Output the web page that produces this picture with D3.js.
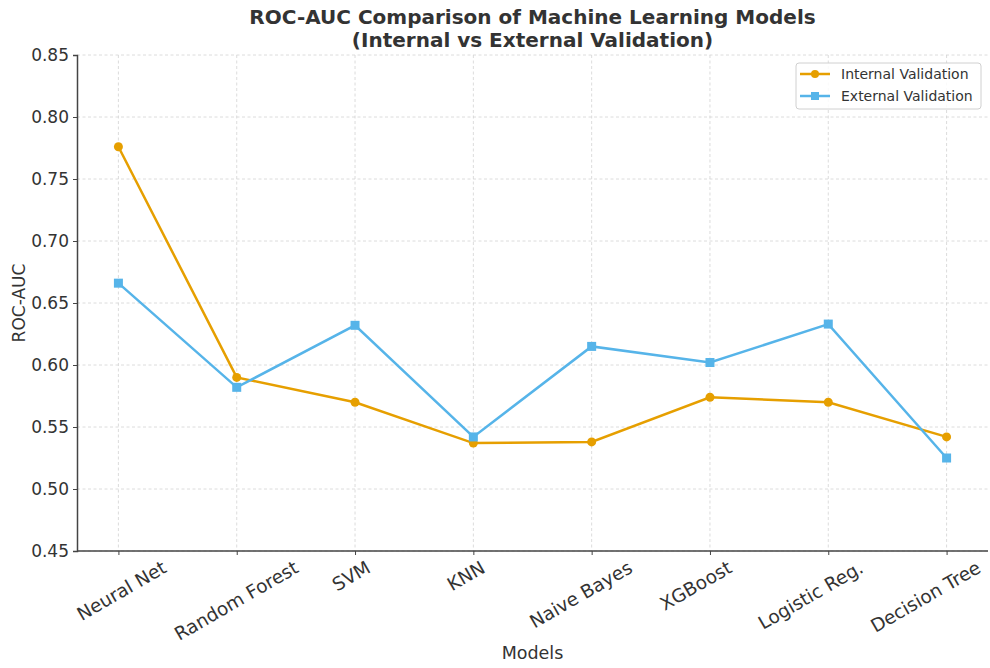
<!DOCTYPE html>
<html>
<head>
<meta charset="utf-8">
<script src="https://cdn.jsdelivr.net/npm/d3@7"></script>
<style>
  body { margin: 0; background: #fff; }
  text { font-family: "DejaVu Sans", sans-serif; fill: #333; }
</style>
</head>
<body>
<div id="chart"></div>
<script>
// données
var models = ["Neural Net", "Random Forest", "SVM", "KNN", "Naive Bayes", "XGBoost", "Logistic Reg.", "Decision Tree"];
var internal = [0.776, 0.590, 0.570, 0.537, 0.538, 0.574, 0.570, 0.542];
var external = [0.666, 0.582, 0.632, 0.542, 0.615, 0.602, 0.633, 0.525];
var yTicks = [0.45, 0.50, 0.55, 0.60, 0.65, 0.70, 0.75, 0.80, 0.85];

var W = 990, H = 668;
var m = { left: 77, right: 2, top: 55, bottom: 117 };

var svg = d3.select("#chart").append("svg")
    .attr("width", W).attr("height", H);

// échelle x : marge de 0.35 de chaque côté comme matplotlib
var x = d3.scaleLinear()
    .domain([-0.35, models.length - 1 + 0.35])
    .range([m.left, W - m.right]);
var y = d3.scaleLinear()
    .domain([0.45, 0.85])
    .range([H - m.bottom, m.top]);
// les étiquettes de l'axe x sont un peu resserrées par rapport aux graduations
var xLabel = d3.scaleLinear()
    .domain([0, models.length - 1])
    .range([121, 925]);

// grille pointillée
var grid = svg.append("g").attr("stroke", "#d3d3d3").attr("stroke-width", 0.8).attr("stroke-dasharray", "3,2.5");
grid.selectAll(".gy").data(yTicks).enter().append("line")
    .attr("x1", m.left).attr("x2", W - m.right)
    .attr("y1", function(d) { return y(d); }).attr("y2", function(d) { return y(d); });
grid.selectAll(".gx").data(models).enter().append("line")
    .attr("x1", function(d, i) { return x(i); }).attr("x2", function(d, i) { return x(i); })
    .attr("y1", m.top).attr("y2", H - m.bottom);

// axe y
var yAxis = svg.append("g")
    .attr("transform", "translate(" + m.left + ",0)")
    .call(d3.axisLeft(y).tickValues(yTicks).tickFormat(d3.format(".2f")).tickSize(4).tickPadding(4));
yAxis.select(".domain").attr("stroke", "#444").attr("stroke-width", 1.5);
yAxis.selectAll(".tick line").attr("stroke", "#444");
yAxis.selectAll("text").style("font-size", "17px").attr("fill", "#333");

// axe x
var xAxis = svg.append("g")
    .attr("transform", "translate(0," + (H - m.bottom) + ")")
    .call(d3.axisBottom(x).tickValues(d3.range(models.length)).tickFormat(function(i) { return models[i]; }).tickSize(4).tickSizeOuter(0));
xAxis.select(".domain").attr("stroke", "#444").attr("stroke-width", 1.5)
    .attr("d", "M" + m.left + ",0H" + (W - m.right));
xAxis.selectAll(".tick line").attr("stroke", "#444");
xAxis.selectAll("text")
    .style("font-size", "18.5px").attr("fill", "#333")
    .attr("text-anchor", "middle").attr("dominant-baseline", "central")
    .attr("dy", null).attr("y", null)
    .attr("transform", function(i) {
        var w = this.getComputedTextLength();
        var bh = w * 0.5 + 13.5 * 0.866;
        return "translate(" + (xLabel(i) - x(i)) + "," + (9 + bh / 2) + ") rotate(-30)";
    });

// courbes
var series = [
    { name: "Internal Validation", values: internal, color: "#E69F00", marker: "circle" },
    { name: "External Validation", values: external, color: "#56B4E9", marker: "square" }
];
var line = d3.line()
    .x(function(d, i) { return x(i); })
    .y(function(d) { return y(d); });

series.forEach(function(s) {
    svg.append("path")
        .datum(s.values)
        .attr("fill", "none").attr("stroke", s.color).attr("stroke-width", 2.5)
        .attr("d", line);
    var g = svg.append("g").attr("fill", s.color);
    if (s.marker == "circle") {
        g.selectAll("circle").data(s.values).enter().append("circle")
            .attr("cx", function(d, i) { return x(i); })
            .attr("cy", function(d) { return y(d); })
            .attr("r", 4.5);
    } else {
        g.selectAll("rect").data(s.values).enter().append("rect")
            .attr("x", function(d, i) { return x(i) - 4.5; })
            .attr("y", function(d) { return y(d) - 4.5; })
            .attr("width", 9).attr("height", 9);
    }
});

// titre
var cx = (m.left + W - m.right) / 2;
var title = svg.append("text")
    .attr("x", cx).attr("text-anchor", "middle")
    .style("font-size", "20px").style("font-weight", "bold");
title.append("tspan").attr("x", cx).attr("y", 24).text("ROC-AUC Comparison of Machine Learning Models");
title.append("tspan").attr("x", cx).attr("y", 46.5).text("(Internal vs External Validation)");

// titres des axes
svg.append("text")
    .attr("x", cx).attr("y", 659)
    .attr("text-anchor", "middle").style("font-size", "17.5px")
    .text("Models");
svg.append("text")
    .attr("transform", "translate(25," + ((m.top + H - m.bottom) / 2) + ") rotate(-90)")
    .attr("text-anchor", "middle").style("font-size", "17px")
    .text("ROC-AUC");

// légende
var leg = svg.append("g").attr("transform", "translate(796,63)");
leg.append("rect")
    .attr("width", 185).attr("height", 46).attr("rx", 3)
    .attr("fill", "#fff").attr("fill-opacity", 0.85)
    .attr("stroke", "#d0d0d0");
series.forEach(function(s, i) {
    var row = leg.append("g").attr("transform", "translate(0," + (11 + i * 22) + ")");
    row.append("line").attr("x1", 4).attr("x2", 34).attr("stroke", s.color).attr("stroke-width", 2.5);
    if (s.marker == "circle") {
        row.append("circle").attr("cx", 19).attr("r", 4).attr("fill", s.color);
    } else {
        row.append("rect").attr("x", 15).attr("y", -4).attr("width", 8).attr("height", 8).attr("fill", s.color);
    }
    row.append("text").attr("x", 45).attr("dominant-baseline", "central")
        .style("font-size", "14px").text(s.name);
});
</script>
</body>
</html>
